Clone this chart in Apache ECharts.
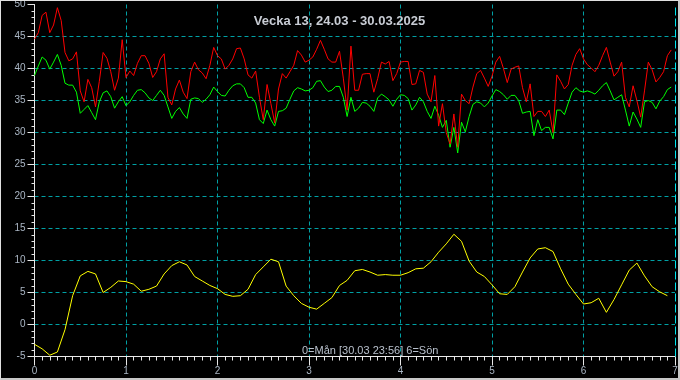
<!DOCTYPE html>
<html>
<head>
<meta charset="utf-8">
<script src="https://cdn.jsdelivr.net/npm/echarts@6/dist/echarts.min.js"></script>
<style>
  html,body{margin:0;padding:0;background:#000;}
  #c{width:680px;height:380px;box-sizing:border-box;background:#000;
     border-top:1px solid #e0e0e0;border-left:1px solid #e0e0e0;
     border-right:2px solid #c8c8c8;border-bottom:2px solid #c8c8c8;}
</style>
</head>
<body>
<div id="c"></div>
<script>
// Week 13, 24.03 - 30.03.2025 ; x axis in days (0 = Monday)
const titleText = 'Vecka 13, 24.03 - 30.03.2025';
const noteText = '0=Mån [30.03 23:56] 6=Sön';
const unitText = '°C';

// red series, one value per hour (h0..h167)
const redHourly = [
  44.6,45.6,48.3,48.8,45.6,46.8,49.5,47.5,42.5,41.2,41.5,42.6,36.5,34.8,38.3,37.0,34.0,38.0,42.5,41.6,39.5,36.6,38.5,44.5,
  38.6,39.6,38.9,40.8,42.0,42.0,40.8,38.6,39.5,41.5,42.3,35.5,34.3,36.8,38.2,36.3,35.3,39.5,
  41.0,39.8,39.3,38.4,40.5,43.3,42.0,41.5,39.9,40.5,41.5,43.1,43.2,41.5,39.0,38.5,39.6,35.5,32.0,37.5,34.5,31.5,36.8,39.2,
  38.5,39.5,40.5,42.8,42.1,41.0,41.3,41.8,43.0,44.4,43.0,41.5,41.0,41.0,42.7,38.5,33.5,43.5,36.6,
  36.6,39.1,39.2,39.2,36.3,38.4,41.0,40.7,41.1,38.1,39.2,41.0,41.1,41.1,37.5,37.6,39.7,39.4,36.0,34.8,38.9,31.0,34.5,30.0,
  28.2,32.9,27.7,36.0,35.0,34.5,37.1,39.2,39.7,38.5,37.2,38.8,41.0,41.9,40.0,37.8,39.9,
  40.2,40.4,37.0,34.8,37.6,32.5,33.3,33.3,32.5,33.5,30.0,39.0,38.0,36.8,37.5,40.5,42.2,43.1,41.5,40.6,40.1,39.5,40.5,42.0,
  43.3,41.0,38.8,39.5,41.0,35.5,34.0,37.3,35.0,32.4,36.5,41.0,39.8,37.9,38.6,39.5,42.0,42.9
];

// green series, one value per hour (h0..h167)
const greenHourly = [
  38.9,40.4,41.8,41.3,39.9,41.0,42.2,40.5,37.7,37.4,37.4,36.3,33.0,33.6,34.2,33.1,32.0,34.8,36.2,36.5,35.6,33.8,34.8,35.6,
  34.2,34.8,35.8,36.6,36.7,36.2,35.4,35.0,35.8,36.6,35.8,34.0,32.2,33.3,33.9,32.9,32.2,35.2,
  35.4,35.3,34.7,35.2,35.9,37.1,36.4,35.8,35.7,36.6,37.3,37.6,37.6,37.0,35.5,35.5,34.6,32.0,31.4,33.5,32.0,31.0,33.3,33.4,
  33.8,35.2,36.5,37.0,36.8,36.5,36.6,37.0,38.0,38.1,37.1,36.4,36.6,37.2,37.2,35.5,32.5,35.5,33.3,
  33.8,34.7,34.6,34.1,33.3,35.4,36.0,35.6,35.1,34.1,35.2,35.9,35.8,35.3,33.5,34.3,35.5,34.8,33.3,32.2,34.1,32.7,30.8,31.9,
  27.7,30.8,26.8,31.6,30.1,32.5,34.4,34.8,34.6,34.0,34.6,35.7,36.7,36.4,35.9,35.2,35.8,
  35.8,35.0,33.0,33.2,33.3,29.5,32.0,30.3,30.8,30.8,29.0,33.5,33.5,32.8,34.6,36.3,37.0,36.5,36.3,36.5,36.3,36.0,36.6,37.3,
  37.8,36.5,35.1,35.5,35.9,33.5,31.0,33.2,32.1,30.8,34.8,35.0,34.7,33.7,34.9,35.6,36.7,37.1
];

// yellow series, one value every 2 hours (h0..h166)
const yellowEvery2h = [
  -3.1,-3.8,-4.8,-4.3,-0.8,4.5,7.6,8.3,7.9,5.0,5.8,6.8,
  6.7,6.3,5.2,5.5,6.0,7.9,9.2,9.8,9.3,7.5,6.8,6.1,
  5.6,4.7,4.4,4.5,5.5,7.8,9.0,10.2,9.8,6.0,4.5,3.3,
  2.7,2.4,3.3,4.2,6.1,6.9,8.4,8.6,8.2,7.7,7.8,7.7,
  7.7,8.1,8.7,8.8,9.8,11.3,12.6,14.1,13.0,9.9,8.2,7.5,
  6.2,4.8,4.7,5.9,8.2,10.4,11.8,12.0,11.4,8.7,6.3,4.7,
  3.2,3.4,4.1,1.9,3.9,6.2,8.5,9.6,7.6,5.9,5.1,4.5
];

const xMin = 0, xMax = 7, xStep = 1;
const yMin = -5, yMax = 50, yStep = 5;

function toPairs(vals, stepHours) {
  return vals.map((v, i) => [i * stepHours / 24, v]);
}

const chart = echarts.init(document.getElementById('c'), null, {renderer: 'canvas'});
const font = 'Arial, "Liberation Sans", sans-serif';
const labelColor = '#aab6c4';
const tickColor = '#e8e8e8';
const gridColor = '#00a0a4';
const none = 'rgba(0,0,0,0)';
// grid line colours per tick: hide the lines at the axis ends
const xGridColors = [none].concat(Array(6).fill(gridColor), [none]);
const yGridColors = [none].concat(Array(10).fill(gridColor), [none]);

chart.setOption({
  backgroundColor: '#000',
  animation: false,
  title: [
    {text: titleText, left: 'center', top: 9,
     textStyle: {color: '#c8ccd4', fontSize: 13, fontWeight: 'bold', fontFamily: font}},
    {text: noteText, left: 296, top: 339,
     textStyle: {color: '#b8c0cc', fontSize: 11, fontWeight: 'normal', fontFamily: font}}
  ],
  grid: {left: 33.5, right: 3, top: 3.5, bottom: 21.5, outerBoundsMode: 'none'},
  xAxis: {
    type: 'value', min: xMin, max: xMax, interval: xStep,
    axisLine: {show: true, onZero: false, lineStyle: {color: tickColor}},
    axisTick: {show: true, inside: false, length: 9, lineStyle: {color: tickColor, width: 1}},
    minorTick: {show: true, splitNumber: 12, length: 4, lineStyle: {color: tickColor, width: 1}},
    axisLabel: {color: labelColor, fontSize: 10, margin: 10},
    splitLine: {show: true, lineStyle: {color: xGridColors, type: [4, 3], width: 1}}
  },
  yAxis: {
    type: 'value', min: yMin, max: yMax, interval: yStep,
    name: unitText, nameLocation: 'middle', nameRotate: 90, nameGap: 18,
    nameTextStyle: {color: '#c0c8d2', fontSize: 12, fontWeight: 'bold', fontFamily: font},
    axisLine: {show: true, onZero: false, lineStyle: {color: tickColor}},
    axisTick: {show: true, inside: false, length: 7, lineStyle: {color: tickColor, width: 1}},
    minorTick: {show: true, splitNumber: 5, length: 3, lineStyle: {color: tickColor, width: 1}},
    axisLabel: {color: labelColor, fontSize: 10, margin: 9},
    splitLine: {show: true, lineStyle: {color: yGridColors, type: [4, 3], width: 1}}
  },
  series: [
    {type: 'line', name: 'yellow', data: toPairs(yellowEvery2h, 2), showSymbol: false,
     lineStyle: {color: '#ffff00', width: 1}, itemStyle: {color: '#ffff00'}},
    {type: 'line', name: 'green', data: toPairs(greenHourly, 1), showSymbol: false,
     lineStyle: {color: '#00ff00', width: 1}, itemStyle: {color: '#00ff00'}},
    {type: 'line', name: 'red', data: toPairs(redHourly, 1), showSymbol: false,
     lineStyle: {color: '#ff0000', width: 1}, itemStyle: {color: '#ff0000'},
     markLine: {silent: true, symbol: ['none', 'none'], label: {show: false},
       lineStyle: {color: '#00e5ee', type: [8, 3], width: 1},
       data: [{xAxis: xMax}]}}
  ]
});
</script>
</body>
</html>
